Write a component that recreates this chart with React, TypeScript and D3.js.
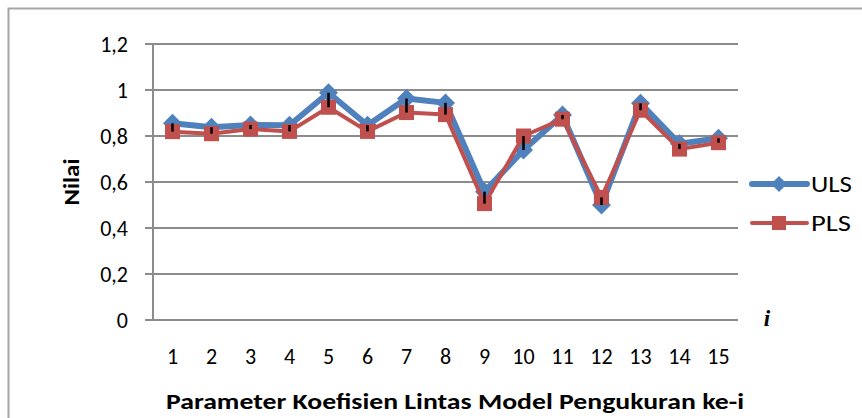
import React from "react";
import * as d3 from "d3";

const categories: string[] = ["1","2","3","4","5","6","7","8","9","10","11","12","13","14","15"];
const ulsValues: number[] = [0.855, 0.838, 0.848, 0.847, 0.988, 0.847, 0.963, 0.944, 0.558, 0.739, 0.891, 0.5, 0.942, 0.766, 0.79];
const plsValues: number[] = [0.819, 0.81, 0.83, 0.82, 0.925, 0.82, 0.902, 0.893, 0.506, 0.8, 0.873, 0.533, 0.912, 0.743, 0.771];
const yTicks: number[] = [0, 0.2, 0.4, 0.6, 0.8, 1, 1.2];
const seriesNames: string[] = ["ULS", "PLS"];

const W = 862;
const H = 418;
const BLUE = "#4F81BD";
const RED = "#C0504D";
const GRID = "#8c8c8c";
const FONT = "Carlito, Calibri, Lato, sans-serif";

export default function App() {
  const left = 153, right = 738, top = 44, bottom = 320;
  const x = d3.scaleBand<string>().domain(categories).range([left, right]);
  const y = d3.scaleLinear().domain([0, 1.2]).range([bottom, top]);
  const cx = (c: string) => (x(c) as number) + x.bandwidth() / 2;
  const fmt = (v: number) => String(Math.round(v * 10) / 10).replace(".", ",");

  const line = d3.line<number>().x((_, i) => cx(categories[i])).y((v) => y(v));
  const diamond = (px: number, py: number, r: number) =>
    `M${px},${py - r}L${px + r},${py}L${px},${py + r}L${px - r},${py}Z`;

  const legendY = [184, 223];

  return (
    <svg width={W} height={H} style={{ position: "absolute", left: 0, top: 0 }} fontFamily={FONT}>
      <rect x={0} y={0} width={W} height={H} fill="#fff" />
      <rect x={8.5} y={8.5} width={W + 20} height={H + 20} fill="none" stroke="#a6a6a6" strokeWidth={2} />
      {/* gridlines */}
      {yTicks.map((t) => (
        <g key={t}>
          <line x1={145} x2={right} y1={y(t)} y2={y(t)} stroke={GRID} strokeWidth={2} />
          <text x={128} y={y(t) + 8} textAnchor="end" fontSize={22} fill="#000">{fmt(t)}</text>
        </g>
      ))}
      <line x1={left} x2={left} y1={top} y2={bottom} stroke={GRID} strokeWidth={2} />
      {/* x tick labels */}
      {categories.map((c) => (
        <text key={c} x={cx(c)} y={364} textAnchor="middle" fontSize={22} fill="#000">{c}</text>
      ))}
      {/* series lines */}
      <path d={line(ulsValues) as string} fill="none" stroke={BLUE} strokeWidth={6} strokeLinejoin="round" />
      {ulsValues.map((v, i) => (
        <path key={"u" + i} d={diamond(cx(categories[i]), y(v), 9.5)} fill={BLUE} />
      ))}
      <path d={line(plsValues) as string} fill="none" stroke={RED} strokeWidth={4} strokeLinejoin="round" />
      {plsValues.map((v, i) => (
        <rect key={"p" + i} x={cx(categories[i]) - 7.5} y={y(v) - 7.5} width={15} height={15} fill={RED} />
      ))}
      {/* high-low lines */}
      {categories.map((c, i) => (
        <line key={"hl" + i} x1={cx(c)} x2={cx(c)} y1={y(Math.max(ulsValues[i], plsValues[i]))} y2={y(Math.min(ulsValues[i], plsValues[i]))} stroke="#000" strokeWidth={2.5} />
      ))}
      {/* axis titles */}
      <text transform={`translate(79,${(top + bottom) / 2}) rotate(-90)`} textAnchor="middle" fontSize={22} fontWeight="bold" fill="#000" textLength={47} lengthAdjust="spacingAndGlyphs">Nilai</text>
      <text x={455} y={409} textAnchor="middle" fontSize={22} fontWeight="bold" fill="#000" textLength={578} lengthAdjust="spacingAndGlyphs">Parameter Koefisien Lintas Model Pengukuran ke-i</text>
      <text x={767} y={326} textAnchor="middle" fontSize={23} fontWeight="bold" fontStyle="italic" fontFamily="'Liberation Serif', 'DejaVu Serif', serif" fill="#000">i</text>
      {/* legend */}
      <line x1={752} x2={807} y1={legendY[0]} y2={legendY[0]} stroke={BLUE} strokeWidth={6} strokeLinecap="round" />
      <path d={diamond(779, legendY[0], 8)} fill={BLUE} />
      <text x={811} y={legendY[0] + 8} fontSize={22} fill="#000" textLength={41} lengthAdjust="spacingAndGlyphs">{seriesNames[0]}</text>
      <line x1={752} x2={807} y1={legendY[1]} y2={legendY[1]} stroke={RED} strokeWidth={4} strokeLinecap="round" />
      <rect x={772} y={legendY[1] - 7} width={14} height={14} fill={RED} />
      <text x={811} y={legendY[1] + 8} fontSize={22} fill="#000" textLength={40} lengthAdjust="spacingAndGlyphs">{seriesNames[1]}</text>
    </svg>
  );
}
